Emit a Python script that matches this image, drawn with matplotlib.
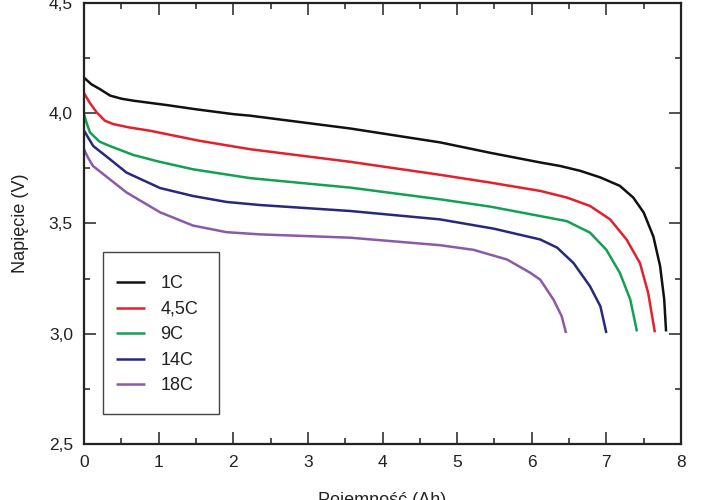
import matplotlib
matplotlib.use("Agg")
import matplotlib.pyplot as plt
from matplotlib.ticker import MultipleLocator
from matplotlib.patches import Rectangle

plt.rcParams['font.family'] = ['Liberation Sans', 'DejaVu Sans']

labels = ['1C', '4,5C', '9C', '14C', '18C']
colors = ['#111111', '#e3202b', '#14a052', '#28287c', '#8a5aa8']

x_1c = [0, 0.1, 0.21, 0.35, 0.5, 0.66, 1.11, 1.5, 2.0, 2.225, 3.566, 4.77, 5.44, 6.113,
        6.38, 6.65, 6.92, 7.18, 7.36, 7.50, 7.63, 7.72, 7.775, 7.80]
v_1c = [4.16, 4.13, 4.109, 4.079, 4.065, 4.056, 4.036, 4.017, 3.995, 3.988, 3.93, 3.867, 3.82, 3.776,
        3.76, 3.738, 3.708, 3.67, 3.617, 3.549, 3.44, 3.306, 3.155, 3.01]

x_45c = [0, 0.08, 0.17, 0.28, 0.39, 0.6, 0.88, 1.55, 2.225, 3.566, 4.77, 5.44, 6.113,
         6.47, 6.78, 7.05, 7.27, 7.45, 7.56, 7.65]
v_45c = [4.09, 4.045, 4.003, 3.965, 3.95, 3.935, 3.92, 3.874, 3.836, 3.779, 3.72, 3.685, 3.647,
         3.617, 3.579, 3.518, 3.427, 3.32, 3.185, 3.006]

x_9c = [0, 0.04, 0.08, 0.21, 0.35, 0.66, 1.0, 1.46, 2.225, 3.566, 4.77, 5.44, 6.113,
        6.47, 6.78, 7.0, 7.18, 7.32, 7.41]
v_9c = [3.995, 3.95, 3.912, 3.87, 3.85, 3.81, 3.78, 3.745, 3.705, 3.662, 3.609, 3.576, 3.533,
        3.51, 3.458, 3.38, 3.276, 3.155, 3.01]

x_14c = [0, 0.125, 0.35, 0.57, 1.02, 1.46, 1.91, 2.36, 3.566, 4.77, 5.49, 6.113,
         6.34, 6.56, 6.78, 6.92, 7.0]
v_14c = [3.92, 3.85, 3.79, 3.73, 3.66, 3.624, 3.597, 3.583, 3.556, 3.518, 3.476, 3.427,
         3.39, 3.32, 3.215, 3.124, 3.003]

x_18c = [0, 0.05, 0.12, 0.57, 1.02, 1.46, 1.91, 2.36, 3.566, 4.77, 5.22, 5.67, 5.98,
         6.113, 6.29, 6.40, 6.46]
v_18c = [3.836, 3.80, 3.76, 3.64, 3.55, 3.49, 3.46, 3.45, 3.435, 3.401, 3.38, 3.336, 3.276,
         3.245, 3.155, 3.08, 3.003]

series = [(x_1c, v_1c), (x_45c, v_45c), (x_9c, v_9c), (x_14c, v_14c), (x_18c, v_18c)]

x_ticks = [0, 1, 2, 3, 4, 5, 6, 7, 8]
y_ticks = [2.5, 3.0, 3.5, 4.0, 4.5]
y_ticklabels = ['2,5', '3,0', '3,5', '4,0', '4,5']

W, H = 720, 500
fig = plt.figure(figsize=(7.2, 5.0), dpi=100)
ax = fig.add_axes([84 / W, 56 / H, (681 - 84) / W, (H - 2.7 - 56) / H])

for (xs, vs), lab, c in zip(series, labels, colors):
    ax.plot(xs, vs, color=c, lw=1.8, label=lab, solid_capstyle='butt')

ax.set_xlim(0, 8)
ax.set_ylim(2.5, 4.5)
ax.set_xticks(x_ticks)
ax.set_xticklabels([str(t) for t in x_ticks])
ax.set_yticks(y_ticks)
ax.set_yticklabels(y_ticklabels)
ax.xaxis.set_minor_locator(MultipleLocator(0.5))
ax.yaxis.set_minor_locator(MultipleLocator(0.25))
ax.tick_params(which='both', direction='in', top=True, right=True, width=1.1,
               color='#222222', labelsize=12.5, labelcolor='#222222')
ax.tick_params(which='major', length=8.5, pad=8)
ax.tick_params(which='minor', length=4.5)
for s in ax.spines.values():
    s.set_linewidth(1.6)
    s.set_color('#222222')

ax.set_ylabel('Napięcie (V)', fontsize=13, color='#222222', labelpad=14)
ax.set_xlabel('Pojemność (Ah)', fontsize=13, color='#222222', labelpad=16)

# legend box
box = Rectangle((103.3 / W, 1 - 414.3 / H), (219 - 103.3) / W, (414.3 - 252.3) / H,
                transform=fig.transFigure, fill=False, edgecolor='#444444', lw=1.0, zorder=5)
fig.add_artist(box)

leg = ax.legend(loc='upper left', bbox_to_anchor=(116 / W, 1 - 275.5 / H),
                bbox_transform=fig.transFigure, fontsize=13, frameon=False,
                handlelength=1.6, handletextpad=0.85, labelspacing=0.47,
                borderpad=0, borderaxespad=0)
for t in leg.get_texts():
    t.set_color('#222222')

fig.savefig('out.png', dpi=100, facecolor='white')
